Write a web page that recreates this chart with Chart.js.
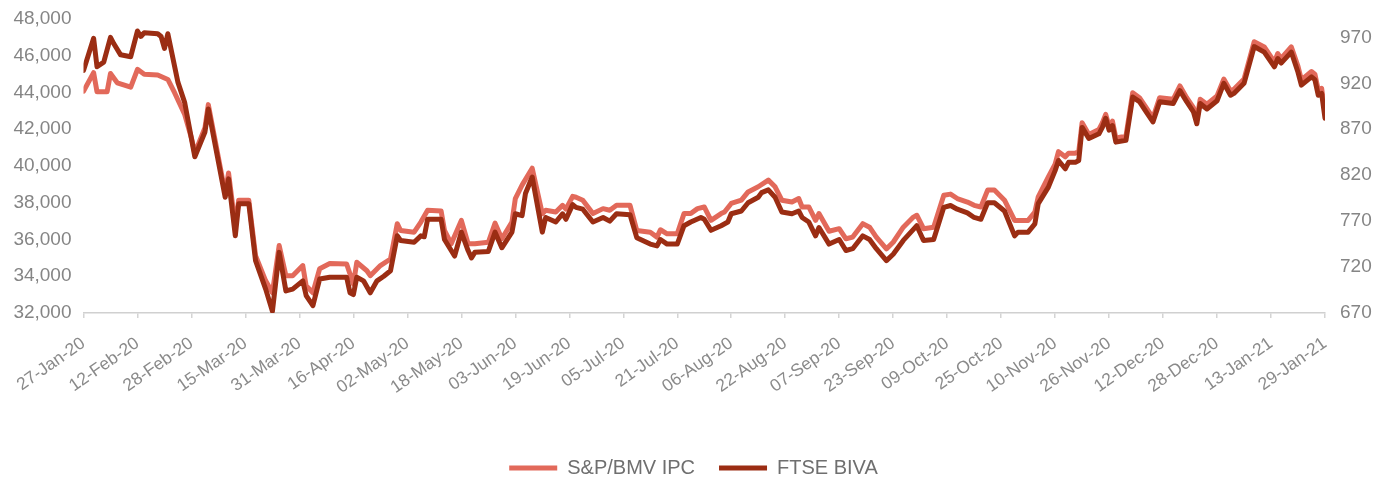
<!DOCTYPE html>
<html>
<head>
<meta charset="utf-8">
<script src="https://cdn.jsdelivr.net/npm/chart.js@4.4.1/dist/chart.umd.min.js"></script>
<style>
html,body{margin:0;padding:0;background:#fff;overflow:hidden}
#wrap{position:relative;width:1387px;height:479px}
</style>
</head>
<body>
<div id="wrap"><canvas id="c"></canvas></div>
<script>
// Day 0 = 27-Jan-20; x positions are days since that date
const startDate = '27-Jan-20';
const tickLabels = ['27-Jan-20','12-Feb-20','28-Feb-20','15-Mar-20','31-Mar-20','16-Apr-20','02-May-20','18-May-20','03-Jun-20','19-Jun-20','05-Jul-20','21-Jul-20','06-Aug-20','22-Aug-20','07-Sep-20','23-Sep-20','09-Oct-20','25-Oct-20','10-Nov-20','26-Nov-20','12-Dec-20','28-Dec-20','13-Jan-21','29-Jan-21'];
const tickStepDays = 16;
const ipcTicks = [32000,34000,36000,38000,40000,42000,44000,46000,48000];
const ftseTicks = [670,720,770,820,870,920,970];

const ipcDays = [0,3,4,7,8,10,14,16,18,22,25,27,30,32,33,36,37,42,43,45,46,49,51,54,56,58,60,62,65,66,68,70,73,78,80,81,84,85,88,91,93,94,98,100,102,106,107,109,112,114,116,120,122,124,127,128,130,133,136,137,140,142,143,145,146,148,151,154,156,158,162,164,168,170,171,173,176,178,180,182,184,186,189,190,192,195,197,200,203,205,207,210,212,213,215,217,218,221,224,226,228,231,233,235,238,240,243,246,247,249,252,255,257,259,262,264,266,268,270,273,276,280,282,283,286,288,289,291,292,294,295,296,298,301,302,303,304,305,306,309,311,313,315,317,319,323,325,327,329,330,331,333,336,338,340,341,344,347,350,353,354,355,358,360,361,364,365,366,367,368];
const ipcValues = [44070,45080,44040,44040,45030,44530,44290,45260,44990,44950,44710,43990,42800,41520,40700,42080,43340,38520,39620,36700,38140,38140,35120,33750,33100,35670,34030,34030,34580,33480,33100,34410,34690,34670,33570,34760,34300,34030,34580,34940,36860,36490,36400,36950,37590,37550,36490,35770,37040,35770,35770,35850,36890,36040,36950,38230,38960,39880,37400,37590,37500,37860,37650,38350,38300,38140,37410,37680,37590,37860,37860,36490,36400,36130,36530,36310,36310,37410,37410,37680,37770,37040,37410,37500,37960,38140,38590,38870,39230,38870,38140,38040,38230,37770,37770,37040,37410,36450,36590,36040,36130,36860,36670,36130,35490,35850,36670,37220,37320,36590,36670,38410,38470,38230,38040,37860,37770,38690,38690,38140,37040,37040,37500,38320,39410,40100,40780,40500,40700,40700,40770,42350,41710,41990,42350,42810,42170,42440,41520,41620,43990,43720,43170,42620,43720,43630,44360,43720,43170,42530,43630,43360,43810,44730,44080,44180,44730,46760,46480,45660,46120,45850,46480,45420,44690,45140,45000,44140,44230,42900];

const ftseDays = [0,3,4,6,8,9,11,14,16,17,18,22,23,24,25,28,30,33,36,37,42,43,45,46,49,51,54,56,58,60,62,65,66,68,70,73,78,79,80,81,83,85,87,89,91,93,94,98,100,101,102,106,107,110,112,114,115,116,120,122,124,127,128,130,131,133,136,137,140,142,143,145,146,148,151,154,156,158,162,164,168,170,171,173,176,178,180,183,184,186,189,191,192,195,197,200,201,203,205,207,210,212,213,215,217,218,221,224,226,228,231,233,235,238,240,243,246,247,249,252,255,257,259,262,264,266,268,270,273,276,277,280,282,283,286,288,289,291,292,294,295,296,298,301,302,303,304,305,306,309,311,313,315,317,319,323,325,327,329,330,331,333,336,338,340,341,344,347,350,353,354,355,358,360,361,364,365,366,367,368];
const ftseValues = [934,969,938,943,970,963,951,949,977,971,975,974,971,958,974,921,899,840,867,892,796,816,754,789,789,727,696,672,736,694,696,705,689,678,707,709,709,692,690,709,705,692,705,710,716,754,749,747,754,753,772,772,750,732,758,738,730,736,737,758,741,758,778,776,800,818,758,774,769,778,772,788,785,783,769,774,770,778,777,752,745,743,750,745,745,765,769,774,772,760,765,769,778,781,790,796,801,804,796,780,778,781,774,769,754,763,745,750,738,740,754,750,740,727,734,749,761,765,749,750,785,787,783,779,774,772,790,790,781,754,758,758,767,789,807,825,836,827,834,834,836,872,860,865,872,882,869,874,856,858,905,900,889,878,900,898,912,900,889,876,898,892,901,920,907,909,920,960,954,938,947,942,954,932,918,927,924,907,909,882];

const toPoints = (days, vals) => days.map((d, i) => ({x: d, y: vals[i]}));
const FONT = "'Liberation Sans', Arial, sans-serif";

new Chart(document.getElementById('c'), {
  type: 'line',
  data: {
    datasets: [
      {
        label: 'S&P/BMV IPC',
        data: toPoints(ipcDays, ipcValues),
        yAxisID: 'y',
        borderColor: '#E2695A',
        backgroundColor: '#E2695A',
        borderWidth: 5,
        borderCapStyle: 'round',
        borderJoinStyle: 'round',
        pointRadius: 0,
        tension: 0,
        order: 2
      },
      {
        label: 'FTSE BIVA',
        data: toPoints(ftseDays, ftseValues),
        yAxisID: 'y1',
        borderColor: '#9B2D13',
        backgroundColor: '#9B2D13',
        borderWidth: 5,
        borderCapStyle: 'round',
        borderJoinStyle: 'round',
        pointRadius: 0,
        tension: 0,
        order: 1
      }
    ]
  },
  options: {
    responsive: true,
    maintainAspectRatio: false,
    animation: false,
    layout: { padding: { top: 19, left: 0, right: 0, bottom: -9 } },
    plugins: {
      tooltip: { enabled: false },
      legend: {
        position: 'bottom',
        align: 'center',
        labels: {
          usePointStyle: true,
          pointStyle: 'line',
          pointStyleWidth: 48,
          padding: 24,
          color: '#6f6f6f',
          font: { family: FONT, size: 20 },
          sort: (a, b) => a.datasetIndex - b.datasetIndex
        }
      }
    },
    scales: {
      x: {
        type: 'linear',
        min: 0,
        max: (tickLabels.length - 1) * tickStepDays,
        grid: { display: true, drawOnChartArea: false, drawTicks: true, tickLength: 5, color: '#d4d4d4', lineWidth: 1.5 },
        border: { display: true, color: '#d0d0d0', width: 1.5 },
        ticks: {
          stepSize: tickStepDays,
          autoSkip: false,
          minRotation: 35,
          maxRotation: 35,
          padding: 15,
          color: '#8a8a8a',
          font: { family: FONT, size: 17.5 },
          callback: (v) => tickLabels[Math.round(v / tickStepDays)] || ''
        },
        afterFit: (s) => { s.height = 121; s.paddingLeft = 0; s.paddingRight = 0; }
      },
      y: {
        position: 'left',
        min: ipcTicks[0],
        max: ipcTicks[ipcTicks.length - 1],
        grid: { display: false, drawTicks: false },
        border: { display: false },
        afterBuildTicks: (s) => { s.ticks = ipcTicks.map(v => ({ value: v })); },
        ticks: {
          padding: 12,
          color: '#858585',
          font: { family: FONT, size: 19 },
          callback: (v) => v.toLocaleString('en-US')
        },
        afterFit: (s) => { s.width = 83.5; s.paddingTop = 0; s.paddingBottom = 0; }
      },
      y1: {
        position: 'right',
        min: 670,
        max: 990,
        grid: { display: false, drawTicks: false },
        border: { display: false },
        afterBuildTicks: (s) => { s.ticks = ftseTicks.map(v => ({ value: v })); },
        ticks: {
          padding: 15,
          color: '#858585',
          font: { family: FONT, size: 19 },
          callback: (v) => String(v)
        },
        afterFit: (s) => { s.width = 62; s.paddingTop = 0; s.paddingBottom = 0; }
      }
    }
  }
});
</script>
</body>
</html>
